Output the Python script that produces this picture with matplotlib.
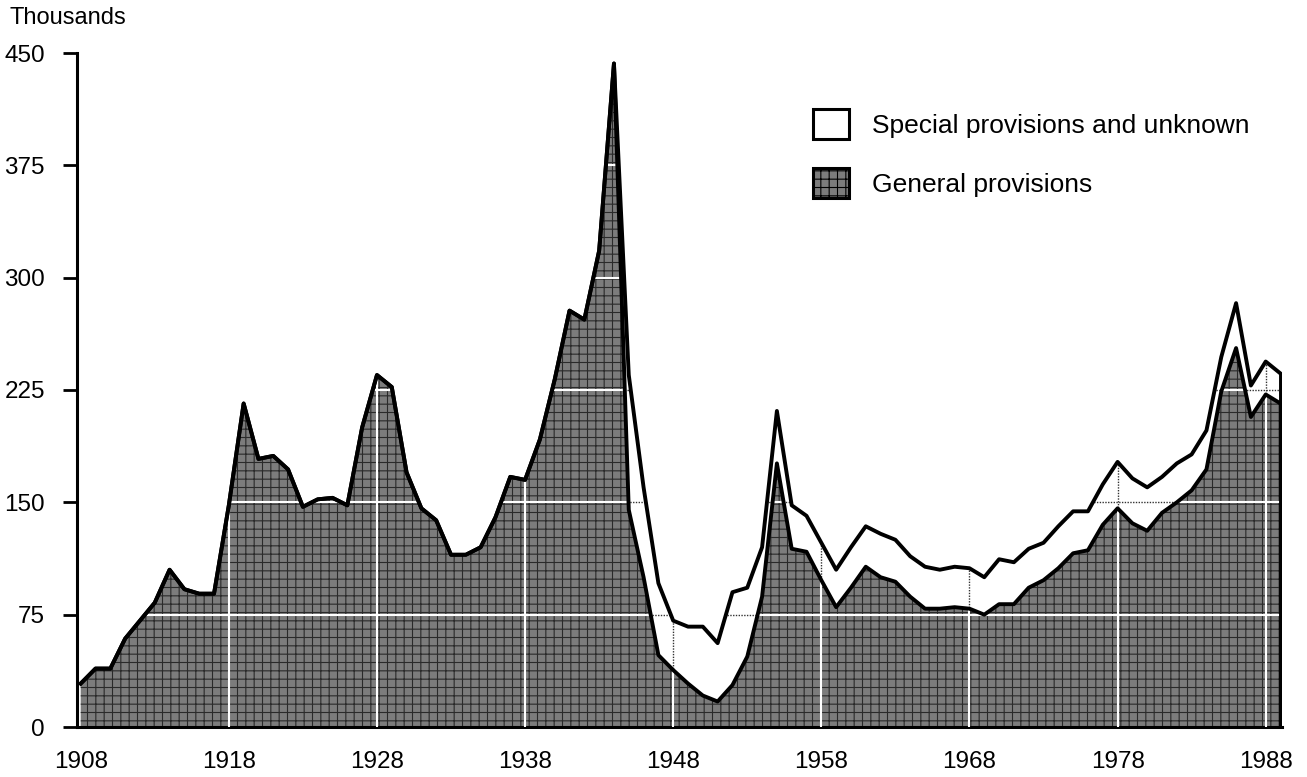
import numpy as np
import matplotlib.pyplot as plt
from matplotlib.patches import Patch

plt.rcParams['font.family'] = ['Liberation Sans', 'DejaVu Sans']
plt.rcParams['hatch.linewidth'] = 0.8

years = list(range(1908, 1990))

# general provisions (thousands)
general = [29, 39, 39, 59, 71, 83, 105, 92, 89, 89,
           148, 216, 179, 181, 172, 147, 152, 153, 148, 200,
           235, 227, 170, 146, 138, 115, 115, 120, 140, 167,
           165, 192, 232, 278, 272, 318, 443, 145, 100, 48,
           38, 29, 21, 17, 28, 47, 87, 176, 119, 117,
           98, 80, 93, 107, 100, 97, 87, 79, 79, 80,
           79, 75, 82, 82, 93, 98, 106, 116, 118, 135,
           146, 136, 131, 143, 150, 158, 172, 224, 253, 207,
           222, 216]

# general + special provisions and unknown
total = [29, 39, 39, 59, 71, 83, 105, 92, 89, 89,
         148, 216, 179, 181, 172, 147, 152, 153, 148, 200,
         235, 227, 170, 146, 138, 115, 115, 120, 140, 167,
         165, 192, 232, 278, 272, 318, 443, 235, 160, 96,
         71, 67, 67, 56, 90, 93, 120, 211, 148, 141,
         123, 105, 120, 134, 129, 125, 114, 107, 105, 107,
         106, 100, 112, 110, 119, 123, 134, 144, 144, 162,
         177, 166, 160, 167, 176, 182, 198, 247, 283, 228,
         244, 236]

x_ticks = [1908, 1918, 1928, 1938, 1948, 1958, 1968, 1978, 1988]
y_ticks = [0, 75, 150, 225, 300, 375, 450]
labels = ['Special provisions and unknown', 'General provisions']

fill_col = '#7c7c7c'
hatch_col = '#2a2a2a'

fig = plt.figure(figsize=(13.07, 7.77), dpi=100)
ax = fig.add_axes([77 / 1307, 50 / 777, 1205 / 1307, 674 / 777])

tot = ax.fill_between(years, 0, total, facecolor='white', edgecolor='none', zorder=1)
gen = ax.fill_between(years, 0, general, facecolor=fill_col, edgecolor=hatch_col,
                      hatch='++', linewidth=0, zorder=2)

# grid: dotted dark over the white band, white over the dark fill
for y in y_ticks[1:-1]:
    l1 = ax.axhline(y, color='#333333', lw=1, ls=(0, (1, 1)), zorder=1.5)
    l1.set_clip_path(tot.get_paths()[0], ax.transData)
    l2 = ax.axhline(y, color='white', lw=1.5, zorder=3)
    l2.set_clip_path(gen.get_paths()[0], ax.transData)
for x in x_ticks[1:]:
    l1 = ax.axvline(x, color='#333333', lw=1, ls=(0, (1, 1)), zorder=1.5)
    l1.set_clip_path(tot.get_paths()[0], ax.transData)
    l2 = ax.axvline(x, color='white', lw=1.5, zorder=3)
    l2.set_clip_path(gen.get_paths()[0], ax.transData)

ax.plot(years, total, color='black', lw=2.8, zorder=4)
ax.plot(years, general, color='black', lw=2.8, zorder=4)
ax.vlines(years[-1], 0, total[-1], color='black', lw=2.8, zorder=4)

ax.set_xlim(1907.75, 1989.1)
ax.set_ylim(0, 450)
ax.set_xticks(x_ticks)
ax.set_yticks(y_ticks)
ax.tick_params(axis='y', length=10, width=2, direction='out', pad=13, labelsize=17.5)
ax.tick_params(axis='x', length=0, pad=17, labelsize=17.5)
for s in ['top', 'right']:
    ax.spines[s].set_visible(False)
for s in ['left', 'bottom']:
    ax.spines[s].set_linewidth(2.2)

fig.text(9 / 1307, 1 - 18 / 777, 'Thousands', fontsize=17, va='center', ha='left')

handles = [Patch(facecolor='white', edgecolor='black', lw=2.2, label=labels[0]),
           Patch(facecolor=fill_col, edgecolor='black', lw=2.2, hatch='++', label=labels[1])]
ax.legend(handles=handles, loc='upper left', bbox_to_anchor=(813 / 1307, 1 - 109 / 777),
          bbox_transform=fig.transFigure, frameon=False, fontsize=19,
          handlelength=1.36, handleheight=1.36, handletextpad=0.87,
          labelspacing=1.1, borderpad=0, borderaxespad=0)

fig.savefig('out.png', dpi=100)
